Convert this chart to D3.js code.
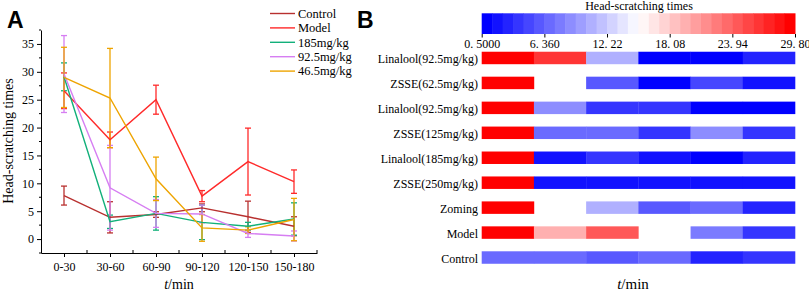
<!DOCTYPE html>
<html>
<head>
<meta charset="utf-8">
<script src="https://cdn.jsdelivr.net/npm/d3@7"></script>
<style>
  body { margin: 0; background: #fff; }
  svg { display: block; font-family: "Liberation Serif", "Times New Roman", serif; }
</style>
</head>
<body>
<div id="chart"></div>
<script>
// Panel A data
const periods = ['0-30', '30-60', '60-90', '90-120', '120-150', '150-180'];
const seriesNames = ['Control', 'Model', '185mg/kg', '92.5mg/kg', '46.5mg/kg'];
const seriesColors = ['#b8302f', '#ff2a2a', '#12b07a', '#d67ef2', '#eea400'];
const controlMean = [7.8, 3.9, 4.4, 5.6, 4.0, 2.3];
const controlErr = [1.7, 2.8, 0.5, 0.7, 2.8, 1.7];
const modelMean = [26.6, 17.8, 25.0, 7.7, 13.9, 10.3];
const modelErr = [3.2, 1.4, 2.6, 1.0, 6.0, 2.1];
const dose185Mean = [29.1, 3.1, 4.6, 3.0, 2.3, 3.6];
const dose185Err = [2.5, 1.2, 3.0, 3.1, 0.7, 2.9];
const dose92Mean = [29.6, 9.2, 4.6, 4.5, 1.0, 0.55];
const dose92Err = [6.9, 7.6, 2.5, 1.6, 0.7, 0.9];
const dose46Mean = [29.0, 25.3, 10.8, 2.0, 1.6, 3.5];
const dose46Err = [5.4, 8.9, 3.9, 2.4, 0.6, 3.8];
const yTicks = [0, 5, 10, 15, 20, 25, 30, 35];

// Panel B data (null = empty cell)
const rowLabels = ['Linalool(92.5mg/kg)', 'ZSSE(62.5mg/kg)', 'Linalool(92.5mg/kg)', 'ZSSE(125mg/kg)',
  'Linalool(185mg/kg)', 'ZSSE(250mg/kg)', 'Zoming', 'Model', 'Control'];
const heatValues = [
  [29.8, 26.4, 10.8, 0.6, 0.6, 3.4],
  [29.8, null, 5.7, 0.6, 4.5, 2.2],
  [29.8, 8.5, 4.0, 4.0, 0.6, 0.6],
  [29.8, 6.8, 6.8, 4.0, 8.5, 4.0],
  [29.8, 1.9, 4.2, 1.9, 0.6, 3.4],
  [29.8, 2.2, 2.2, 2.2, 2.2, 2.2],
  [29.8, null, 10.8, 5.4, 6.8, 3.1],
  [29.8, 19.5, 24.1, null, 8.0, 3.7],
  [6.5, 6.5, 5.4, 6.5, 2.5, 3.7]
];
const colorbarTicks = [0.5, 6.36, 12.22, 18.08, 23.94, 29.8];
const colorSteps = 30;

const width = 809, height = 293;
const svg = d3.select('#chart').append('svg')
  .attr('width', width).attr('height', height);

// ---------- Panel A ----------
const series = [
  { name: seriesNames[0], mean: controlMean, err: controlErr, color: seriesColors[0] },
  { name: seriesNames[1], mean: modelMean, err: modelErr, color: seriesColors[1] },
  { name: seriesNames[2], mean: dose185Mean, err: dose185Err, color: seriesColors[2] },
  { name: seriesNames[3], mean: dose92Mean, err: dose92Err, color: seriesColors[3] },
  { name: seriesNames[4], mean: dose46Mean, err: dose46Err, color: seriesColors[4] }
];

const x = d3.scalePoint().domain(periods).range([41, 317]).padding(0.5);
const y = d3.scaleLinear().domain([-2.5, 37.5]).range([253, 30]);

const gA = svg.append('g');

// y axis
const yAxis = gA.append('g')
  .attr('transform', 'translate(41,0)')
  .call(d3.axisLeft(y).tickValues(yTicks).tickSize(4).tickSizeOuter(0).tickPadding(3));
yAxis.selectAll('text').attr('font-size', 12).attr('font-family', 'Liberation Serif');
yAxis.append('g').selectAll('line')
  .data(d3.range(-2.5, 38, 5))
  .join('line')
  .attr('x1', 0).attr('x2', -2)
  .attr('y1', d => y(d)).attr('y2', d => y(d))
  .attr('stroke', '#000');

// x axis
const xAxis = gA.append('g')
  .attr('transform', 'translate(0,253)')
  .call(d3.axisBottom(x).tickSize(4).tickSizeOuter(0).tickPadding(5));
xAxis.selectAll('text').attr('font-size', 12).attr('font-family', 'Liberation Serif');
xAxis.append('g').selectAll('line')
  .data(periods.slice(1))
  .join('line')
  .attr('x1', d => x(d) - x.step() / 2).attr('x2', d => x(d) - x.step() / 2)
  .attr('y1', 0).attr('y2', -3)
  .attr('stroke', '#000');
xAxis.append('line')
  .attr('x1', x(periods[periods.length - 1]) + x.step() / 2)
  .attr('x2', x(periods[periods.length - 1]) + x.step() / 2)
  .attr('y1', 0).attr('y2', -3).attr('stroke', '#000');

// error bars
const cap = 3;
series.forEach(s => {
  const g = gA.append('g').attr('stroke', s.color).attr('stroke-width', 1.3).attr('fill', 'none');
  g.selectAll('line.v').data(periods).join('line').attr('class', 'v')
    .attr('x1', d => x(d)).attr('x2', d => x(d))
    .attr('y1', (d, i) => y(s.mean[i] - s.err[i]))
    .attr('y2', (d, i) => y(s.mean[i] + s.err[i]));
  g.selectAll('line.t').data(periods).join('line').attr('class', 't')
    .attr('x1', d => x(d) - cap).attr('x2', d => x(d) + cap)
    .attr('y1', (d, i) => y(s.mean[i] + s.err[i]))
    .attr('y2', (d, i) => y(s.mean[i] + s.err[i]));
  g.selectAll('line.b').data(periods).join('line').attr('class', 'b')
    .attr('x1', d => x(d) - cap).attr('x2', d => x(d) + cap)
    .attr('y1', (d, i) => y(s.mean[i] - s.err[i]))
    .attr('y2', (d, i) => y(s.mean[i] - s.err[i]));
});

// lines
const line = d3.line().x((d, i) => x(periods[i])).y(d => y(d));
series.forEach(s => {
  gA.append('path')
    .attr('d', line(s.mean))
    .attr('fill', 'none')
    .attr('stroke', s.color)
    .attr('stroke-width', 1.4);
});

// legend
const legend = gA.append('g').attr('transform', 'translate(270,13.5)');
const items = legend.selectAll('g').data(series).join('g')
  .attr('transform', (d, i) => `translate(0,${i * 14.4})`);
items.append('line').attr('x1', 0).attr('x2', 25)
  .attr('stroke', d => d.color).attr('stroke-width', 1.4);
items.append('text').attr('x', 28).attr('dy', '0.35em')
  .attr('font-size', 12.5).text(d => d.name);

// axis titles
gA.append('text')
  .attr('transform', 'translate(13,141) rotate(-90)')
  .attr('text-anchor', 'middle')
  .attr('font-size', 14)
  .text('Head-scratching times');
const xtA = gA.append('text')
  .attr('x', 179).attr('y', 289)
  .attr('text-anchor', 'middle')
  .attr('font-size', 14);
xtA.append('tspan').attr('font-style', 'italic').text('t');
xtA.append('tspan').text('/min');

gA.append('text')
  .attr('x', 7).attr('y', 28)
  .attr('font-family', 'Liberation Sans, Arial, sans-serif')
  .attr('font-weight', 'bold').attr('font-size', 23)
  .text('A');

// ---------- Panel B ----------
const gB = svg.append('g');
const interp = d3.piecewise(d3.interpolateRgb, ['#0000ff', '#ffffff', '#ff0000']);
const color = d3.scaleQuantize()
  .domain([0.5, 29.8])
  .range(d3.range(colorSteps).map(i => interp(i / (colorSteps - 1))));

const xb = d3.scaleBand().domain(periods).range([481.7, 795]).padding(0);
const yb = d3.scaleBand().domain(d3.range(rowLabels.length))
  .range([45.5, 270]).paddingInner(0.5).paddingOuter(0.25);

// colour bar
const cx = d3.scaleLinear().domain([0.5, 29.8]).range([481.7, 795]);
const stepW = (29.8 - 0.5) / colorSteps;
gB.append('g').selectAll('rect')
  .data(d3.range(colorSteps))
  .join('rect')
  .attr('x', i => cx(0.5 + i * stepW))
  .attr('width', cx(0.5 + stepW) - cx(0.5) + 0.5)
  .attr('y', 13.3).attr('height', 20.7)
  .attr('fill', i => color(0.5 + (i + 0.5) * stepW));

const fmt = d3.format('.4r');
const cbAxis = gB.append('g')
  .attr('transform', 'translate(0,34)')
  .call(d3.axisBottom(cx).tickValues(colorbarTicks).tickSize(3.5).tickPadding(2)
    .tickFormat(d => fmt(d).replace('.', '. ')));
cbAxis.select('.domain').remove();
cbAxis.selectAll('text').attr('font-size', 12).attr('font-family', 'Liberation Serif');

gB.append('text')
  .attr('x', 639).attr('y', 10)
  .attr('text-anchor', 'middle')
  .attr('font-size', 12)
  .text('Head-scratching times');

// heat cells
const cells = [];
heatValues.forEach((row, r) => row.forEach((v, c) => {
  if (v !== null) cells.push({ r, c, v });
}));
gB.append('g').selectAll('rect')
  .data(cells)
  .join('rect')
  .attr('x', d => xb(periods[d.c]))
  .attr('width', xb.bandwidth() + 0.3)
  .attr('y', d => yb(d.r))
  .attr('height', yb.bandwidth())
  .attr('fill', d => color(d.v));

// row labels
gB.append('g').selectAll('text')
  .data(rowLabels)
  .join('text')
  .attr('x', 478)
  .attr('y', (d, i) => yb(i) + yb.bandwidth() / 2 + 1)
  .attr('dy', '0.35em')
  .attr('text-anchor', 'end')
  .attr('font-size', 12)
  .text(d => d);

const xtB = gB.append('text')
  .attr('x', 633).attr('y', 289)
  .attr('text-anchor', 'middle')
  .attr('font-size', 15);
xtB.append('tspan').attr('font-style', 'italic').text('t');
xtB.append('tspan').text('/min');

gB.append('text')
  .attr('x', 357).attr('y', 28)
  .attr('font-family', 'Liberation Sans, Arial, sans-serif')
  .attr('font-weight', 'bold').attr('font-size', 23)
  .text('B');
</script>
</body>
</html>
